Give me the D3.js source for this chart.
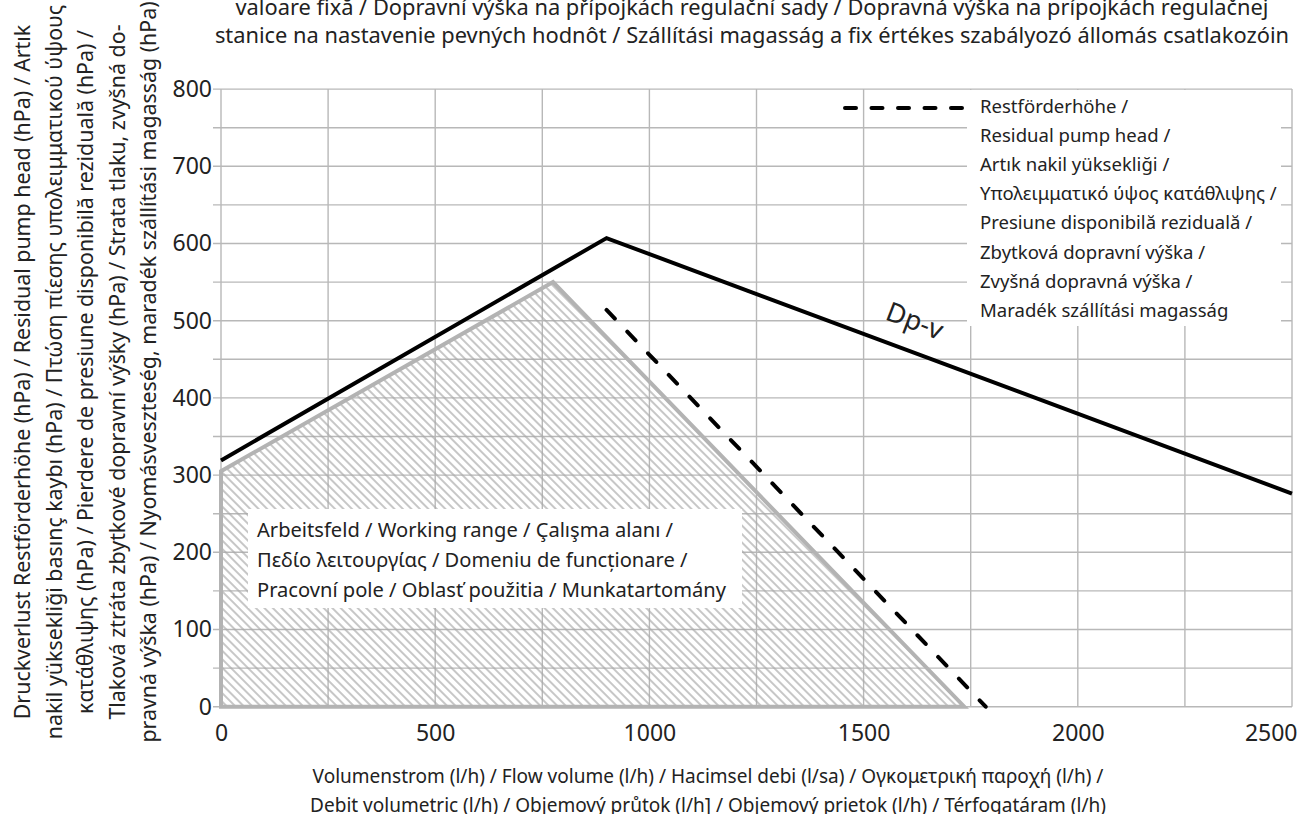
<!DOCTYPE html>
<html><head><meta charset="utf-8">
<script src="https://cdn.jsdelivr.net/npm/d3@7"></script>
<style>
body{margin:0;background:#fff}
svg{display:block}
text{font-family:"Noto Sans",sans-serif;fill:#222}
</style>
</head><body>
<svg id="c" width="1299" height="814"></svg>
<script>
// ---------------- data ----------------
const xDomain = [0, 2500];
const yDomain = [0, 800];
const xTickValues = [0, 500, 1000, 1500, 2000, 2500];
const yTickValues = [0, 100, 200, 300, 400, 500, 600, 700, 800];
const gridXValues = [0, 250, 500, 750, 1000, 1250, 1500, 1750, 2000, 2250, 2500];
const gridYValues = [0, 50, 100, 150, 200, 250, 300, 350, 400, 450, 500, 550, 600, 650, 700, 750, 800];

const dpvFlow = [0, 900, 2500];
const dpvHead = [319, 607, 276];

const residualFlow = [900, 1785];
const residualHead = [514, 0];

const workFlow = [0, 0, 775, 1735];
const workHead = [0, 305, 550, 0];

const titleLines = [
  "valoare fixă / Dopravní výška na přípojkách regulační sady / Dopravná výška na prípojkách regulačnej",
  "stanice na nastavenie pevných hodnôt / Szállítási magasság a fix értékes szabályozó állomás csatlakozóin"
];
const xTitleLines = [
  "Volumenstrom (l/h) / Flow volume (l/h) / Hacimsel debi (l/sa) / Ογκομετρική παροχή (l/h) /",
  "Debit volumetric (l/h) / Objemový průtok (l/h] / Objemový prietok (l/h) / Térfogatáram (l/h)"
];
const yTitleLines = [
  "Druckverlust Restförderhöhe (hPa) / Residual pump head (hPa) / Artık",
  "nakil yüksekliği basınç kaybı (hPa) / Πτώση πίεσης υπολειμματικού ύψους",
  "κατάθλιψης (hPa) / Pierdere de presiune disponibilă reziduală (hPa) /",
  "Tlaková ztráta zbytkové dopravní výšky (hPa) / Strata tlaku, zvyšná do-",
  "pravná výška (hPa) / Nyomásveszteség, maradék szállítási magasság (hPa)"
];
const legendLines = [
  "Restförderhöhe /",
  "Residual pump head /",
  "Artık nakil yüksekliği /",
  "Υπολειμματικό ύψος κατάθλιψης /",
  "Presiune disponibilă reziduală /",
  "Zbytková dopravní výška /",
  "Zvyšná dopravná výška /",
  "Maradék szállítási magasság"
];
const workLabelLines = [
  "Arbeitsfeld / Working range / Çalışma alanı /",
  "Πεδίο λειτουργίας / Domeniu de funcționare /",
  "Pracovní pole / Oblasť použitia / Munkatartomány"
];
const curveLabel = "Dp-v";

// ---------------- layout ----------------
const svg = d3.select("#c");
const L = 221, R = 1292, T = 89.1, B = 706.7;
const x = d3.scaleLinear().domain(xDomain).range([L, R]);
const y = d3.scaleLinear().domain(yDomain).range([B, T]);

function fit(sel, target) {
  const w = sel.node().getComputedTextLength();
  const fs = parseFloat(sel.attr("font-size"));
  return fs * target / w;
}

// hatch pattern
const defs = svg.append("defs");
defs.append("pattern")
  .attr("id", "hatch").attr("patternUnits", "userSpaceOnUse")
  .attr("width", 6).attr("height", 6)
  .attr("patternTransform", "rotate(45)")
  .append("line").attr("x1", -1).attr("y1", 3).attr("x2", 7).attr("y2", 3)
  .attr("stroke", "#a8a8a8").attr("stroke-width", 1.3);

// grid
const grid = svg.append("g");
grid.selectAll("line.gx").data(gridXValues).join("line")
  .attr("x1", d => x(d)).attr("x2", d => x(d))
  .attr("y1", y(0)).attr("y2", y(800))
  .attr("stroke", "#b8b8b8").attr("stroke-width", 1.4);
grid.selectAll("line.gy").data(gridYValues).join("line")
  .attr("x1", L - 8).attr("x2", R)
  .attr("y1", d => y(d)).attr("y2", d => y(d))
  .attr("stroke", "#b8b8b8").attr("stroke-width", 1.4);

// axes tick labels via d3 axes
const fmt = d3.format("d");
const yAxis = d3.axisLeft(y).tickValues(yTickValues).tickFormat(fmt).tickSize(0).tickPadding(9);
const gy = svg.append("g").attr("transform", `translate(${L},0)`).call(yAxis);
gy.select(".domain").remove();
gy.selectAll("text").attr("font-size", 23).attr("font-family", '"Noto Sans",sans-serif').attr("fill", "#222");

const xAxis = d3.axisBottom(x).tickValues(xTickValues).tickFormat(fmt).tickSize(0).tickPadding(18);
const gx = svg.append("g").attr("transform", `translate(0,${B})`).call(xAxis);
gx.select(".domain").remove();
gx.selectAll("text").attr("font-size", 23).attr("font-family", '"Noto Sans",sans-serif').attr("fill", "#222");
gx.selectAll("g.tick").each(function(d) {
  const t = d3.select(this).select("text");
  const w = t.node().getComputedTextLength();
  const cx = x(d);
  if (cx + w / 2 > 1297) t.attr("text-anchor", "end").attr("x", 1297 - cx);
});

// working range polygon
const pts = workFlow.map((f, i) => [x(f), y(workHead[i])]);
svg.append("path").attr("d", d3.line()(pts) + "Z")
  .attr("fill", "url(#hatch)").attr("stroke", "#b3b3b3")
  .attr("stroke-width", 4).attr("stroke-linejoin", "miter");

// working range label box
svg.append("rect").attr("x", 248).attr("y", 509).attr("width", 494).attr("height", 99).attr("fill", "#fff");
const wl = svg.append("g");
wl.selectAll("text").data(workLabelLines).join("text")
  .attr("x", 257).attr("y", (d, i) => 537 + i * 30).attr("font-size", 18).text(d => d);
const wfs = fit(wl.selectAll("text").filter((d, i) => i === 2), 469);
wl.selectAll("text").attr("font-size", wfs);

// Dp-v curve
svg.append("path")
  .attr("d", d3.line()(dpvFlow.map((f, i) => [x(f), y(dpvHead[i])])))
  .attr("fill", "none").attr("stroke", "#000").attr("stroke-width", 4)
  .attr("stroke-linejoin", "miter");

// residual head dashed
svg.append("path")
  .attr("d", d3.line()(residualFlow.map((f, i) => [x(f), y(residualHead[i])])))
  .attr("fill", "none").attr("stroke", "#000").attr("stroke-width", 4)
  .attr("stroke-dasharray", "12,18").attr("stroke-linecap", "round");

// curve label
svg.append("text").attr("x", 884).attr("y", 319)
  .attr("transform", "rotate(21,884,319)")
  .attr("font-size", 27).text(curveLabel);

// legend
svg.append("rect").attr("x", 967).attr("y", 90).attr("width", 314).attr("height", 236).attr("fill", "#fff");
svg.append("line").attr("x1", 845).attr("x2", 967).attr("y1", 108).attr("y2", 108)
  .attr("stroke", "#000").attr("stroke-width", 4)
  .attr("stroke-dasharray", "11,15.5").attr("stroke-linecap", "round");
const lg = svg.append("g");
lg.selectAll("text").data(legendLines).join("text")
  .attr("x", 980).attr("y", (d, i) => 113 + i * 29.1).attr("font-size", 18).text(d => d);
const lfs = fit(lg.selectAll("text").filter((d, i) => i === 3), 297);
lg.selectAll("text").attr("font-size", lfs);

// title
const tg = svg.append("g");
tg.selectAll("text").data(titleLines).join("text")
  .attr("x", 752).attr("y", (d, i) => 15 + i * 28).attr("text-anchor", "middle")
  .attr("font-size", 18).text(d => d);
const tfs = fit(tg.selectAll("text").filter((d, i) => i === 1), 1075);
tg.selectAll("text").attr("font-size", tfs);

// x title
const xg = svg.append("g");
xg.selectAll("text").data(xTitleLines).join("text")
  .attr("x", 708).attr("y", (d, i) => 783 + i * 29).attr("text-anchor", "middle")
  .attr("font-size", 18).text(d => d);
const xfs = fit(xg.selectAll("text").filter((d, i) => i === 0), 791);
xg.selectAll("text").attr("font-size", xfs);

// y title
const yg = svg.append("g");
yg.selectAll("text").data(yTitleLines).join("text")
  .attr("text-anchor", "middle")
  .attr("transform", (d, i) => `translate(${30 + i * 31.5},372) rotate(-90)`)
  .attr("font-size", 18).text(d => d);
const yfs = fit(yg.selectAll("text").filter((d, i) => i === 0), 695);
yg.selectAll("text").attr("font-size", yfs);
</script>
</body></html>
